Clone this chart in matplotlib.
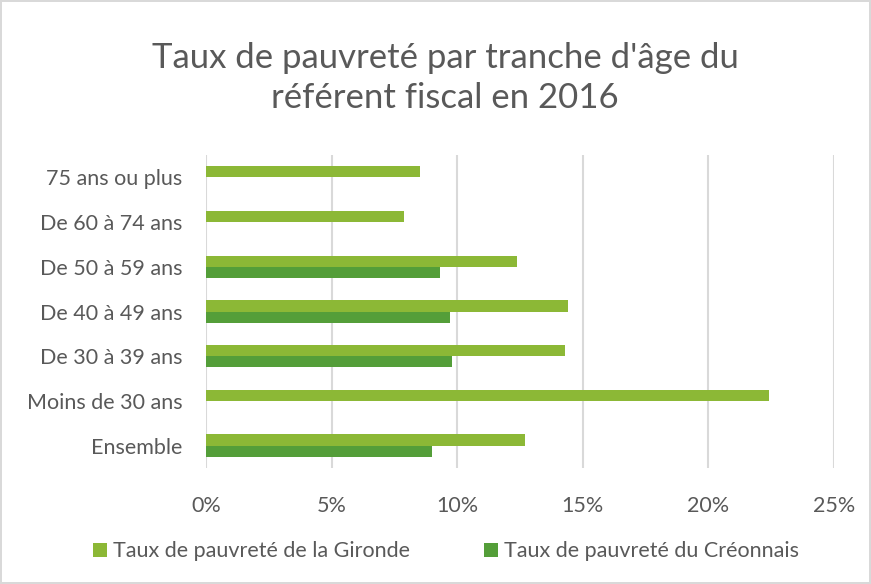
# -*- coding:UTF-8 -*-
# Taux de pauvreté par tranche d'âge - horizontal grouped bars
import matplotlib.pyplot as plt
import numpy as np
from matplotlib.ticker import FuncFormatter

# ---------------------------------------------------#
# data
# ---------------------------------------------------#
categories = ["Ensemble", "Moins de 30 ans", "De 30 à 39 ans", "De 40 à 49 ans",
              "De 50 à 59 ans", "De 60 à 74 ans", "75 ans ou plus"]
gironde = [12.7, 22.4, 14.3, 14.4, 12.4, 7.9, 8.5]
creonnais = [9.0, np.nan, 9.8, 9.7, 9.3, np.nan, np.nan]
x_ticks = [0, 5, 10, 15, 20, 25]
series_names = ["Taux de pauvreté de la Gironde", "Taux de pauvreté du Créonnais"]
title = "Taux de pauvreté par tranche d'âge du\nréférent fiscal en 2016"

# ---------------------------------------------------#
# style
# ---------------------------------------------------#
plt.rcParams["font.family"] = ["Lato", "DejaVu Sans"]
col_gir, col_cre = "#8cb836", "#549e39"
txt_col = "#595959"
grid_col = "#d9d9d9"

fig = plt.figure(figsize=(8.71, 5.84), dpi=100)
fig.patch.set_facecolor("white")
fig.patch.set_edgecolor("#d9d9d9")
fig.patch.set_linewidth(1.5)

ax = fig.add_axes([0.2365, 0.1986, 0.7210, 0.5360])
y = np.arange(len(categories))
h = 0.25
ax.barh(y + h / 2, gironde, height=h, color=col_gir, label=series_names[0], zorder=3)
ax.barh(y - h / 2, creonnais, height=h, color=col_cre, label=series_names[1], zorder=3)

ax.set_xlim(0, 25)
ax.set_ylim(-0.5, 6.5)
ax.set_xticks(x_ticks)
ax.xaxis.set_major_formatter(FuncFormatter(lambda v, p: "%d%%" % v))
ax.set_yticks(y)
ax.set_yticklabels(categories)
ax.grid(axis="x", color=grid_col, linewidth=1.5, zorder=0)
for s in ax.spines.values():
    s.set_visible(False)
ax.tick_params(axis="both", length=0, labelsize=15.5, colors=txt_col)
ax.tick_params(axis="x", pad=20)
ax.tick_params(axis="y", pad=17)

fig.text(0.511, 0.867, title, ha="center", va="center", fontsize=25, fontweight="normal",
         color=txt_col, linespacing=1.3)

leg = fig.legend(loc="center", bbox_to_anchor=(0.512, 0.056), ncol=2, frameon=False,
                 fontsize=15.5, handlelength=0.65, handleheight=0.65, handletextpad=0.3,
                 columnspacing=3.4)
for t in leg.get_texts():
    t.set_color(txt_col)

plt.savefig("out.png", dpi=100)
plt.close()
